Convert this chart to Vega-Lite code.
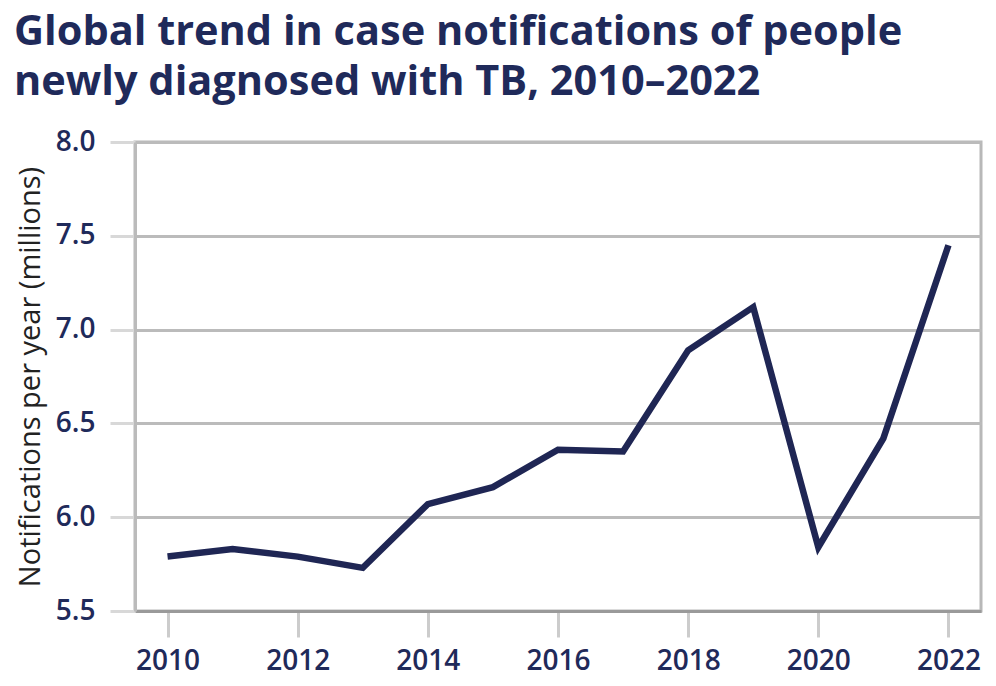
{
  "$schema": "https://vega.github.io/schema/vega-lite/v6.json",
  "description": "Global trend in case notifications of people newly diagnosed with TB, 2010-2022.",
  "width": 846,
  "height": 469,
  "autosize": "none",
  "padding": {"left": 135, "top": 142, "right": 15, "bottom": 75},
  "background": "white",
  "config": {
    "font": "Open Sans",
    "view": {"stroke": "#b8b8b8", "strokeWidth": 3}
  },
  "title": {
    "text": ["Global trend in case notifications of people", "newly diagnosed with TB, 2010–2022"],
    "anchor": "start",
    "frame": "group",
    "dx": -121,
    "offset": 25,
    "font": "Open Sans",
    "fontSize": 41.5,
    "fontWeight": "bold",
    "color": "#1f2a5a",
    "lineHeight": 50
  },
  "data": {
    "values": [
      {"year": 2010, "notifications": 5.79},
      {"year": 2011, "notifications": 5.83},
      {"year": 2012, "notifications": 5.79},
      {"year": 2013, "notifications": 5.73},
      {"year": 2014, "notifications": 6.07},
      {"year": 2015, "notifications": 6.16},
      {"year": 2016, "notifications": 6.36},
      {"year": 2017, "notifications": 6.35},
      {"year": 2018, "notifications": 6.89},
      {"year": 2019, "notifications": 7.12},
      {"year": 2020, "notifications": 5.84},
      {"year": 2021, "notifications": 6.42},
      {"year": 2022, "notifications": 7.45}
    ]
  },
  "mark": {"type": "line", "color": "#1f2654", "strokeWidth": 6.5, "strokeJoin": "miter"},
  "encoding": {
    "x": {
      "field": "year",
      "type": "quantitative",
      "scale": {"domain": [2009.5, 2022.5], "nice": false, "zero": false},
      "axis": {
        "title": null,
        "values": [2010, 2012, 2014, 2016, 2018, 2020, 2022],
        "format": "d",
        "grid": false,
        "domainColor": "#9a9a9a",
        "domainWidth": 3,
        "tickColor": "#cccccc",
        "tickWidth": 3,
        "tickSize": 26,
        "labelPadding": 10,
        "labelFontSize": 28,
        "labelFontWeight": 600,
        "labelColor": "#1f2a5a"
      }
    },
    "y": {
      "field": "notifications",
      "type": "quantitative",
      "scale": {"domain": [5.5, 8.0], "nice": false, "zero": false},
      "axis": {
        "title": "Notifications per year (millions)",
        "titleFontSize": 29,
        "titleFontWeight": "normal",
        "titleColor": "#222222",
        "titlePadding": 10,
        "values": [5.5, 6.0, 6.5, 7.0, 7.5, 8.0],
        "format": ".1f",
        "grid": true,
        "gridColor": "#bbbbbb",
        "gridWidth": 3,
        "domainColor": "#bbbbbb",
        "domainWidth": 3,
        "tickColor": "#d8d8d8",
        "tickWidth": 3,
        "tickSize": 25,
        "labelPadding": 15,
        "labelFontSize": 28,
        "labelFontWeight": 600,
        "labelColor": "#1f2a5a"
      }
    }
  }
}
